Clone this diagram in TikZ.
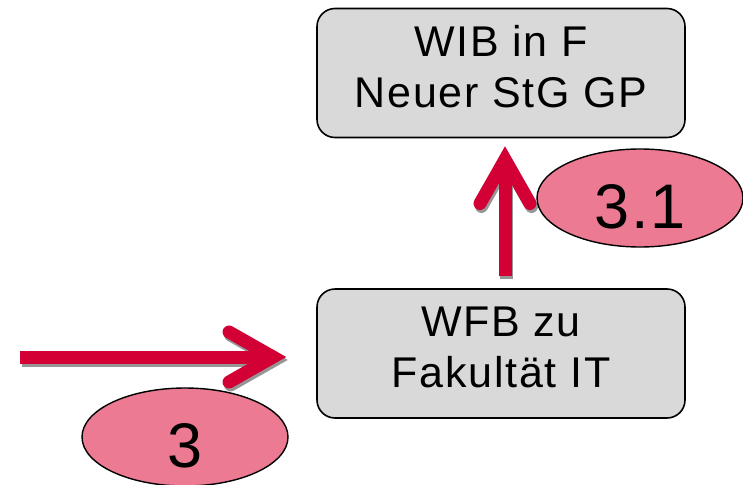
\documentclass[tikz,border=0pt]{standalone}
\usepackage{fontspec}
\setmainfont{Liberation Sans}
\usetikzlibrary{arrows.meta,shapes.geometric}
\definecolor{arrred}{RGB}{210,0,52}
\definecolor{ellpink}{RGB}{236,122,147}
\definecolor{boxgray}{RGB}{217,217,217}
\definecolor{shadowgray}{RGB}{150,150,150}
\tikzset{
  stbox/.style={draw=black, line width=1.6pt, fill=boxgray, rounded corners=18pt,
    minimum width=368pt, minimum height=129pt, inner sep=0pt, align=center,
    font=\fontsize{43}{51}\selectfont\addfontfeature{LetterSpace=4}, text depth=13pt},
  numell/.style={ellipse, draw=black, line width=1.4pt, fill=ellpink,
    minimum width=206pt, minimum height=98pt, inner sep=0pt,
    font=\fontsize{63}{63}\selectfont\addfontfeature{LetterSpace=3}, text height=60pt, text depth=0pt},
  bigarrow/.style={draw=arrred, line width=13pt,
    -{Straight Barb[length=44pt,width=50pt,line cap=round,line join=miter]}},
  arrshadow/.style={draw=shadowgray, line width=13pt,
    -{Straight Barb[length=44pt,width=50pt,line cap=round,line join=miter]},
    transform canvas={shift={(1.5pt,-3pt)}}}
}
\begin{document}
\begin{tikzpicture}[x=1pt,y=-1pt]
\useasboundingbox (0,0) rectangle (743,484);
\node[stbox] (top) at (501,73) {WIB in F\\Neuer StG GP};
\node[stbox] (bot) at (501,353.5) {WFB zu\\Fakultät IT};
\coordinate (upstart) at (505,276);
\coordinate (lstart) at (20,357);
% shadows
\draw[arrshadow, line cap=butt] (upstart) -- ([yshift=-8pt]upstart |- top.south);
\draw[arrshadow, line cap=butt] (lstart) -- ([xshift=-30pt]lstart -| bot.west);
% arrows
\draw[bigarrow, line cap=butt] (upstart) -- ([yshift=-8pt]upstart |- top.south);
\draw[bigarrow, line cap=butt] (lstart) -- ([xshift=-30pt]lstart -| bot.west);
\node[numell] (e31) at (640,198) {3.1};
\node[numell] (e3) at (185,437) {3};
\end{tikzpicture}
\end{document}
